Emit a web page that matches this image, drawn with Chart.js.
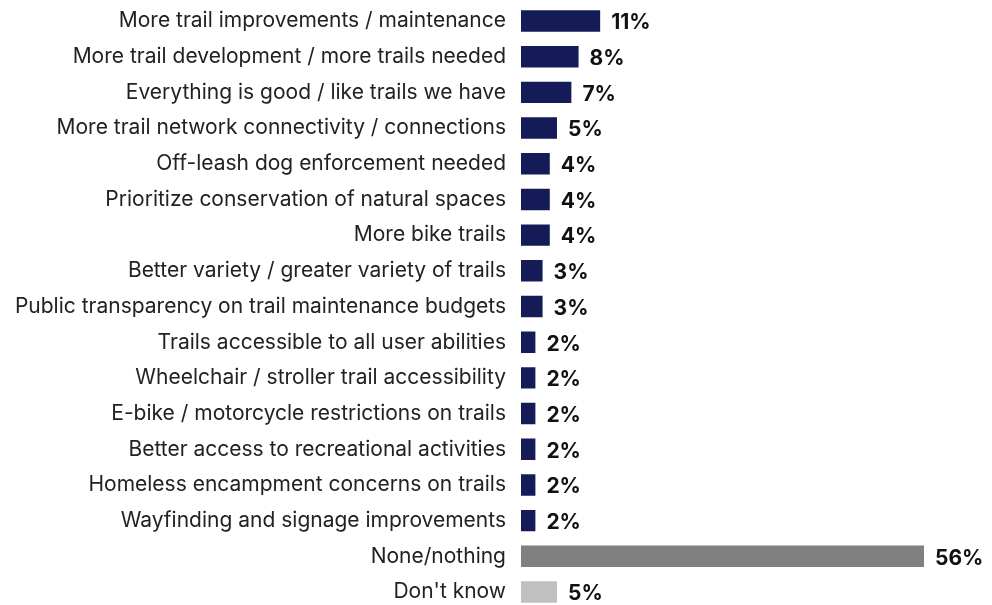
<!DOCTYPE html>
<html>
<head>
<meta charset="utf-8">
<script src="https://cdn.jsdelivr.net/npm/chart.js@4"></script>
<style>
  html, body { margin: 0; padding: 0; background: #fff; overflow: hidden; }
  canvas { display: block; }
</style>
</head>
<body>
<canvas id="trails_chart" width="992" height="613"></canvas>
<script>
var categories = [
  "More trail improvements / maintenance",
  "More trail development / more trails needed",
  "Everything is good / like trails we have",
  "More trail network connectivity / connections",
  "Off-leash dog enforcement needed",
  "Prioritize conservation of natural spaces",
  "More bike trails",
  "Better variety / greater variety of trails",
  "Public transparency on trail maintenance budgets",
  "Trails accessible to all user abilities",
  "Wheelchair / stroller trail accessibility",
  "E-bike / motorcycle restrictions on trails",
  "Better access to recreational activities",
  "Homeless encampment concerns on trails",
  "Wayfinding and signage improvements",
  "None/nothing",
  "Don't know"
];
var percents = [11, 8, 7, 5, 4, 4, 4, 3, 3, 2, 2, 2, 2, 2, 2, 56, 5];
var barColors = [
  "#141b57", "#141b57", "#141b57", "#141b57", "#141b57", "#141b57", "#141b57",
  "#141b57", "#141b57", "#141b57", "#141b57", "#141b57", "#141b57", "#141b57",
  "#141b57", "#808080", "#c0c0c0"
];

// draws the "11%" style labels just past the bar ends
var valueLabels = {
  id: 'valueLabels',
  afterDatasetsDraw: function(chart) {
    var ctx = chart.ctx;
    var meta = chart.getDatasetMeta(0);
    ctx.save();
    ctx.font = "bold 21px Inter";
    ctx.fillStyle = "#111";
    ctx.textAlign = "left";
    ctx.textBaseline = "middle";
    meta.data.forEach(function(bar, i) {
      ctx.fillText(percents[i] + "%", bar.x + 11, bar.y + 2);
    });
    ctx.restore();
  }
};

var ctx = document.getElementById("trails_chart");
var chart = new Chart(ctx, {
  type: 'bar',
  data: {
    labels: categories,
    datasets: [{
      data: percents,
      backgroundColor: barColors,
      borderWidth: 0,
      barPercentage: 0.6,
      categoryPercentage: 1.0
    }]
  },
  options: {
    indexAxis: 'y',
    responsive: false,
    animation: false,
    layout: { padding: { top: 3, right: 68, bottom: 3, left: 0 } },
    plugins: {
      legend: { display: false },
      tooltip: { enabled: false }
    },
    scales: {
      x: {
        min: 0,
        max: 56,
        display: false
      },
      y: {
        // transparent tick marks give the gap between labels and bars
        grid: { display: true, drawOnChartArea: false, drawTicks: true, tickLength: 15, color: 'rgba(0,0,0,0)' },
        border: { display: false },
        ticks: {
          color: "#222",
          font: { family: "Inter", size: 21, lineHeight: 0.3 },
          padding: 0,
          autoSkip: false
        },
        afterFit: function(scale) { scale.width = 521; }
      }
    }
  },
  plugins: [valueLabels]
});
</script>
</body>
</html>
